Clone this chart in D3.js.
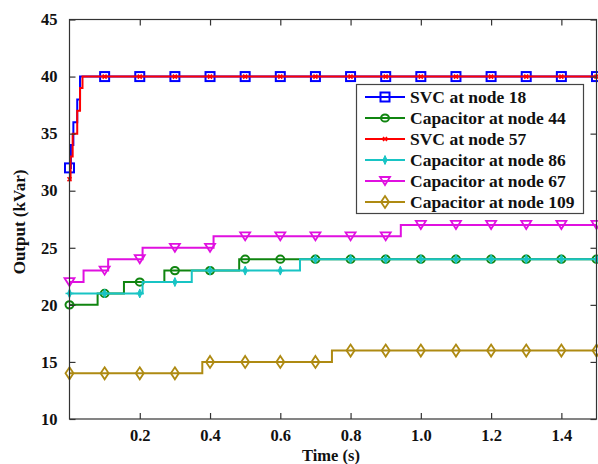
<!DOCTYPE html>
<html>
<head>
<meta charset="utf-8">
<script src="https://cdn.jsdelivr.net/npm/d3@7"></script>
<style>
body { margin: 0; background: #fff; }
text { font-family: "Liberation Serif", "Times New Roman", serif; font-weight: bold; }
</style>
</head>
<body>
<div id="chart"></div>
<script>
// step change points: time (s) and output (kVar)
var svc18T = [0, 0.004, 0.011, 0.022, 0.03];
var svc18V = [32, 34, 36, 38, 40];
var cap44T = [0, 0.08, 0.155, 0.27, 0.483];
var cap44V = [20, 21, 22, 23, 24];
var svc57T = [0, 0.003, 0.009, 0.022, 0.03, 0.037];
var svc57V = [31, 33, 35, 37, 39, 40];
var cap86T = [0, 0.208, 0.348, 0.656];
var cap86V = [21, 22, 23, 24];
var cap67T = [0, 0.04, 0.11, 0.208, 0.41, 0.943];
var cap67V = [22, 23, 24, 25, 26, 27];
var cap109T = [0, 0.378, 0.747];
var cap109V = [14, 15, 16];

var markerTimes = [0, 0.1, 0.2, 0.3, 0.4, 0.5, 0.6, 0.7, 0.8, 0.9, 1.0, 1.1, 1.2, 1.3, 1.4, 1.5];
var xTicks = [0.2, 0.4, 0.6, 0.8, 1.0, 1.2, 1.4];
var yTicks = [10, 15, 20, 25, 30, 35, 40, 45];

var series = [
  {name: "SVC at node 18", t: svc18T, v: svc18V, color: "#0000ff", mark: "square"},
  {name: "Capacitor at node 44", t: cap44T, v: cap44V, color: "#108510", mark: "circle"},
  {name: "SVC at node 57", t: svc57T, v: svc57V, color: "#ff0000", mark: "x"},
  {name: "Capacitor at node 86", t: cap86T, v: cap86V, color: "#18c4c4", mark: "plus"},
  {name: "Capacitor at node 67", t: cap67T, v: cap67V, color: "#e010e0", mark: "tri"},
  {name: "Capacitor at node 109", t: cap109T, v: cap109V, color: "#ae8a12", mark: "diamond"}
];

var W = 598, H = 464;
var pLeft = 69.5, pRight = 596.5, pTop = 19.5, pBottom = 419;

var x = d3.scaleLinear().domain([0, 1.5]).range([pLeft, pRight]);
var y = d3.scaleLinear().domain([10, 45]).range([pBottom, pTop]);

var svg = d3.select("#chart").append("svg")
  .attr("width", W).attr("height", H);

function valueAt(s, t) {
  var val = s.v[0];
  for (var i = 0; i < s.t.length; i++) { if (s.t[i] <= t + 1e-9) val = s.v[i]; }
  return val;
}

function drawMarker(g, kind, cx, cy, color) {
  if (kind == "square") {
    g.append("rect").attr("x", cx - 4.5).attr("y", cy - 4.5).attr("width", 9).attr("height", 9)
      .attr("fill", "none").attr("stroke", color).attr("stroke-width", 2);
  } else if (kind == "circle") {
    g.append("ellipse").attr("cx", cx).attr("cy", cy).attr("rx", 4).attr("ry", 3.6)
      .attr("fill", "none").attr("stroke", color).attr("stroke-width", 2);
  } else if (kind == "x") {
    g.append("path").attr("d", "M" + (cx - 2) + "," + (cy - 2) + "L" + (cx + 2) + "," + (cy + 2) +
      "M" + (cx - 2) + "," + (cy + 2) + "L" + (cx + 2) + "," + (cy - 2))
      .attr("stroke", color).attr("stroke-width", 1.6);
  } else if (kind == "plus") {
    g.append("path").attr("d", "M" + cx + "," + (cy - 4.5) + "L" + (cx + 2) + "," + cy + "L" + cx + "," + (cy + 4.5) +
      "L" + (cx - 2) + "," + cy + "Z")
      .attr("fill", color).attr("stroke", color).attr("stroke-width", 1);
    g.append("path").attr("d", "M" + (cx - 4) + "," + cy + "L" + (cx + 4) + "," + cy)
      .attr("stroke", color).attr("stroke-width", 1.5);
  } else if (kind == "tri") {
    g.append("path").attr("d", "M" + (cx - 5) + "," + (cy - 4) + "L" + (cx + 5) + "," + (cy - 4) + "L" + cx + "," + (cy + 4) + "Z")
      .attr("fill", "none").attr("stroke", color).attr("stroke-width", 1.8);
  } else if (kind == "diamond") {
    g.append("path").attr("d", "M" + cx + "," + (cy - 6) + "L" + (cx + 4) + "," + cy + "L" + cx + "," + (cy + 6) + "L" + (cx - 4) + "," + cy + "Z")
      .attr("fill", "none").attr("stroke", color).attr("stroke-width", 1.8);
  }
}

// series lines and markers
var line = d3.line()
  .x(function(d) { return x(d[0]); })
  .y(function(d) { return y(d[1]); })
  .curve(d3.curveStepAfter);

var plot = svg.append("g");
series.forEach(function(s) {
  var pts = s.t.map(function(t, i) { return [t, s.v[i]]; });
  pts.push([1.5, s.v[s.v.length - 1]]);
  plot.append("path").datum(pts).attr("d", line)
    .attr("fill", "none").attr("stroke", s.color).attr("stroke-width", 2);
  var mg = plot.append("g");
  markerTimes.forEach(function(t) {
    drawMarker(mg, s.mark, x(t), y(valueAt(s, t)), s.color);
  });
});

// axes box
var axisColor = "#333";
svg.append("rect").attr("x", pLeft).attr("y", pTop).attr("width", pRight - pLeft).attr("height", pBottom - pTop)
  .attr("fill", "none").attr("stroke", axisColor).attr("stroke-width", 1.2);

var tl = 6;
var xb = svg.append("g").attr("transform", "translate(0," + pBottom + ")")
  .call(d3.axisBottom(x).tickValues(xTicks).tickSize(-tl).tickPadding(10).tickFormat(d3.format(".1f")));
var xt = svg.append("g").attr("transform", "translate(0," + pTop + ")")
  .call(d3.axisTop(x).tickValues(xTicks).tickSize(-tl).tickFormat(""));
var yl = svg.append("g").attr("transform", "translate(" + pLeft + ",0)")
  .call(d3.axisLeft(y).tickValues(yTicks).tickSize(-tl).tickPadding(12));
var yr = svg.append("g").attr("transform", "translate(" + pRight + ",0)")
  .call(d3.axisRight(y).tickValues(yTicks).tickSize(-tl).tickFormat(""));
[xb, xt, yl, yr].forEach(function(a) {
  a.select(".domain").remove();
  a.selectAll(".tick line").attr("stroke", axisColor).attr("stroke-width", 1.2);
  a.selectAll("text").attr("fill", "#111").style("font-size", "16.5px");
});

svg.append("text").attr("x", 331).attr("y", 461).attr("text-anchor", "middle")
  .style("font-size", "16.5px").attr("fill", "#111").text("Time (s)");
svg.append("text").attr("transform", "translate(25,222) rotate(-90)").attr("text-anchor", "middle")
  .style("font-size", "17px").attr("fill", "#111").text("Output (kVar)");

// legend
var lg = svg.append("g");
lg.append("rect").attr("x", 356.5).attr("y", 84.5).attr("width", 227).attr("height", 129)
  .attr("fill", "#fff").attr("stroke", "#444").attr("stroke-width", 1.2);
series.forEach(function(s, i) {
  var cy = 97 + i * 21;
  lg.append("line").attr("x1", 365).attr("x2", 405).attr("y1", cy).attr("y2", cy)
    .attr("stroke", s.color).attr("stroke-width", 2);
  drawMarker(lg, s.mark, 385, cy, s.color);
  lg.append("text").attr("x", 410).attr("y", cy + 6).style("font-size", "17.5px")
    .attr("fill", "#111").text(s.name);
});
</script>
</body>
</html>
